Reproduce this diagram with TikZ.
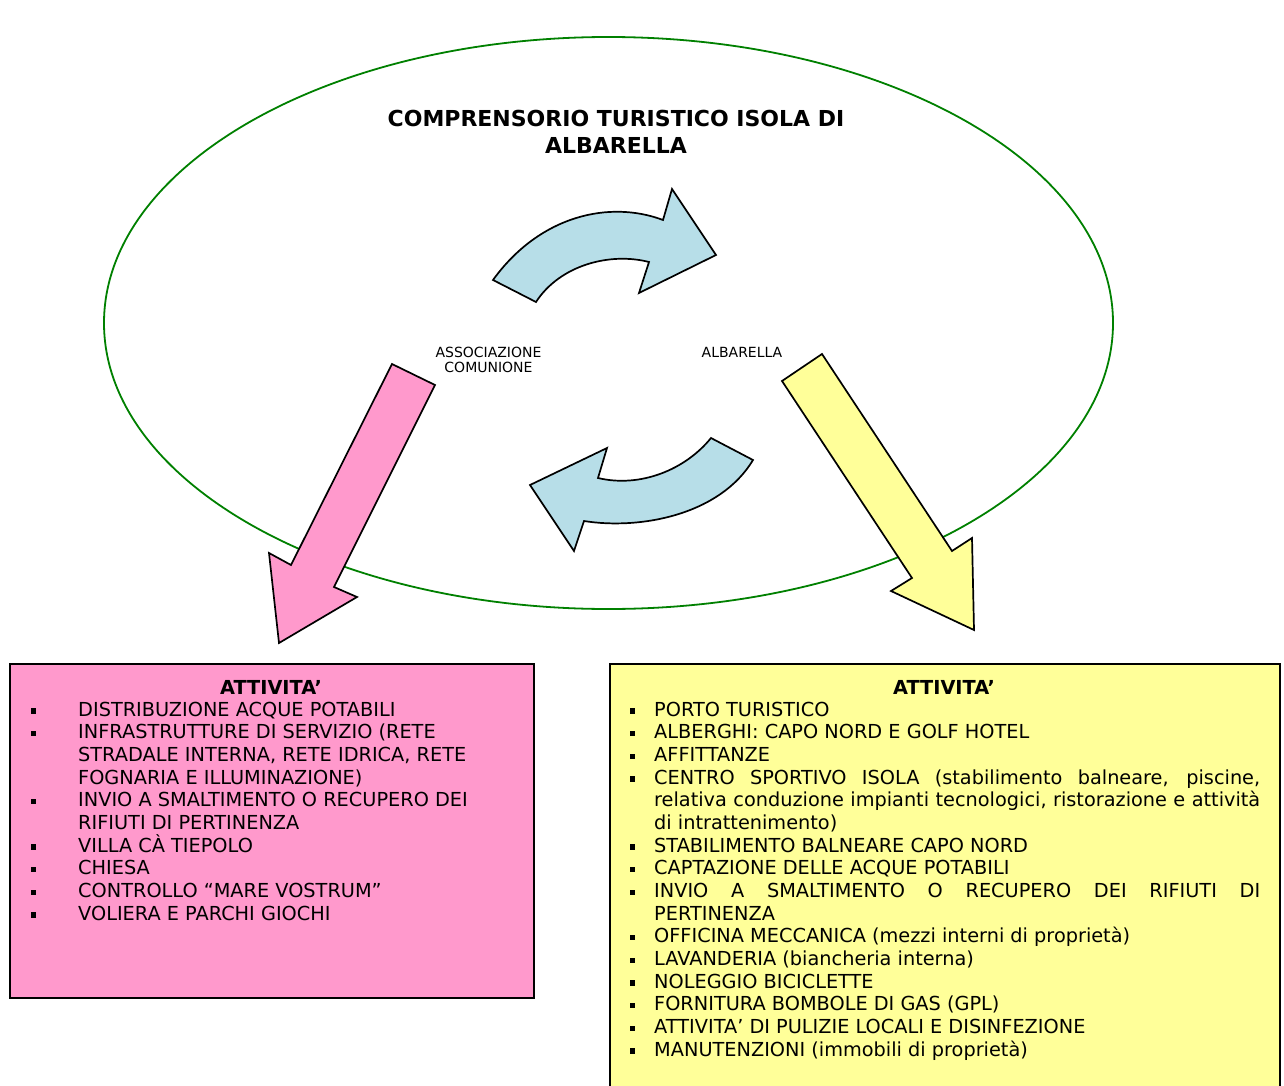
\documentclass[tikz,border=0pt]{standalone}
\usepackage{fontspec}
\setmainfont{DejaVu Sans}
\definecolor{pinkfill}{HTML}{FF99CC}
\definecolor{yellowfill}{HTML}{FFFF99}
\definecolor{tealfill}{HTML}{B7DEE8}
\definecolor{ringgreen}{HTML}{008000}
\newcommand{\psq}{\llap{\rule[2.5pt]{5.5pt}{5.5pt}\hspace{42pt}}}
\newcommand{\ysq}{\llap{\rule[2.5pt]{5.5pt}{5.5pt}\hspace{19pt}}}
\begin{document}
\begin{tikzpicture}[x=1pt,y=-1pt]
\tikzstyle{blockarrow}=[draw=black,line width=1.7pt,line join=miter]
\tikzstyle{box}=[draw=black,line width=2pt,inner sep=0pt,anchor=north west]
\tikzstyle{heading}=[font=\bfseries\fontsize{19.3}{22.67}\selectfont,anchor=base,inner sep=0pt]
\tikzstyle{list}=[font=\fontsize{19.3}{22.67}\selectfont,align=left,anchor=north west,inner sep=0pt]
\tikzstyle{label}=[font=\fontsize{14}{15.4}\selectfont,align=center,inner sep=0pt]
\useasboundingbox (0,0) rectangle (1284,1086);
\clip (0,0) rectangle (1284,1086);
% ring round the two companies
\draw[ringgreen,line width=1.8pt] (608.5,323) ellipse [x radius=504.5,y radius=286];
\node[font=\bfseries\fontsize{22}{27}\selectfont,align=center,inner sep=0pt,anchor=north] (title) at (616,109)
  {\rule{0pt}{17pt}COMPRENSORIO TURISTICO ISOLA DI\\ALBARELLA};
\node[label,anchor=north] (assoc) at (488.5,346.3) {\rule{0pt}{11pt}ASSOCIAZIONE\\COMUNIONE};
\node[label,anchor=base] (albar) at (742,357.3) {ALBARELLA};
% exchange arrows
\draw[blockarrow,fill=tealfill] (493,280) .. controls (540,215) and (610,200) .. (663,220)
  -- (672,189) -- (716,255) -- (639,293) -- (649,262)
  .. controls (610,252) and (560,265) .. (536,302) -- cycle;
\draw[blockarrow,fill=tealfill] (753,460) .. controls (720,515) and (640,530) .. (584,521)
  -- (574,551) -- (530,485) -- (607,448) -- (598,478)
  .. controls (640,488) and (685,470) .. (711,438) -- cycle;
% arrows down to the boxes
\draw[blockarrow,fill=pinkfill] (392,364) -- (435,385) -- (334,587) -- (357,597)
  -- (279,643) -- (269,553) -- (291,565) -- cycle;
\draw[blockarrow,fill=yellowfill] (782,381) -- (822,354) -- (952,551) -- (972,538)
  -- (974,630) -- (891,591) -- (912,578) -- cycle;
% activity boxes
\node[box,fill=pinkfill,minimum width=524pt,minimum height=334pt] (pinkbox) at (9,663) {};
\node[box,fill=yellowfill,minimum width=670pt,minimum height=440pt] (yellowbox) at (609,663) {};
\node[heading] (pinkhead) at (271,694) {ATTIVITA’};
\node[heading] (yellowhead) at (944,694) {ATTIVITA’};
\node[list] (pinklist) at (78,701) {\rule{0pt}{15pt}\psq DISTRIBUZIONE ACQUE POTABILI\\
  \psq INFRASTRUTTURE DI SERVIZIO (RETE\\
  STRADALE INTERNA, RETE IDRICA, RETE\\
  FOGNARIA E ILLUMINAZIONE)\\
  \psq INVIO A SMALTIMENTO O RECUPERO DEI\\
  RIFIUTI DI PERTINENZA\\
  \psq VILLA CÀ TIEPOLO\\
  \psq CHIESA\\
  \psq CONTROLLO “MARE VOSTRUM”\\
  \psq VOLIERA E PARCHI GIOCHI};
\node[list] (yellowlist) at (654,701) {\rule{0pt}{15pt}\ysq PORTO TURISTICO\\
  \ysq ALBERGHI: CAPO NORD E GOLF HOTEL\\
  \ysq AFFITTANZE\\
  \ysq\makebox[606pt][s]{CENTRO SPORTIVO ISOLA (stabilimento balneare, piscine,}\\
  \makebox[606pt][s]{relativa conduzione impianti tecnologici, ristorazione e attività}\\
  di intrattenimento)\\
  \ysq STABILIMENTO BALNEARE CAPO NORD\\
  \ysq CAPTAZIONE DELLE ACQUE POTABILI\\
  \ysq\makebox[606pt][s]{INVIO A SMALTIMENTO O RECUPERO DEI RIFIUTI DI}\\
  PERTINENZA\\
  \ysq OFFICINA MECCANICA (mezzi interni di proprietà)\\
  \ysq LAVANDERIA (biancheria interna)\\
  \ysq NOLEGGIO BICICLETTE\\
  \ysq FORNITURA BOMBOLE DI GAS (GPL)\\
  \ysq ATTIVITA’ DI PULIZIE LOCALI E DISINFEZIONE\\
  \ysq MANUTENZIONI (immobili di proprietà)};
\end{tikzpicture}
\end{document}
